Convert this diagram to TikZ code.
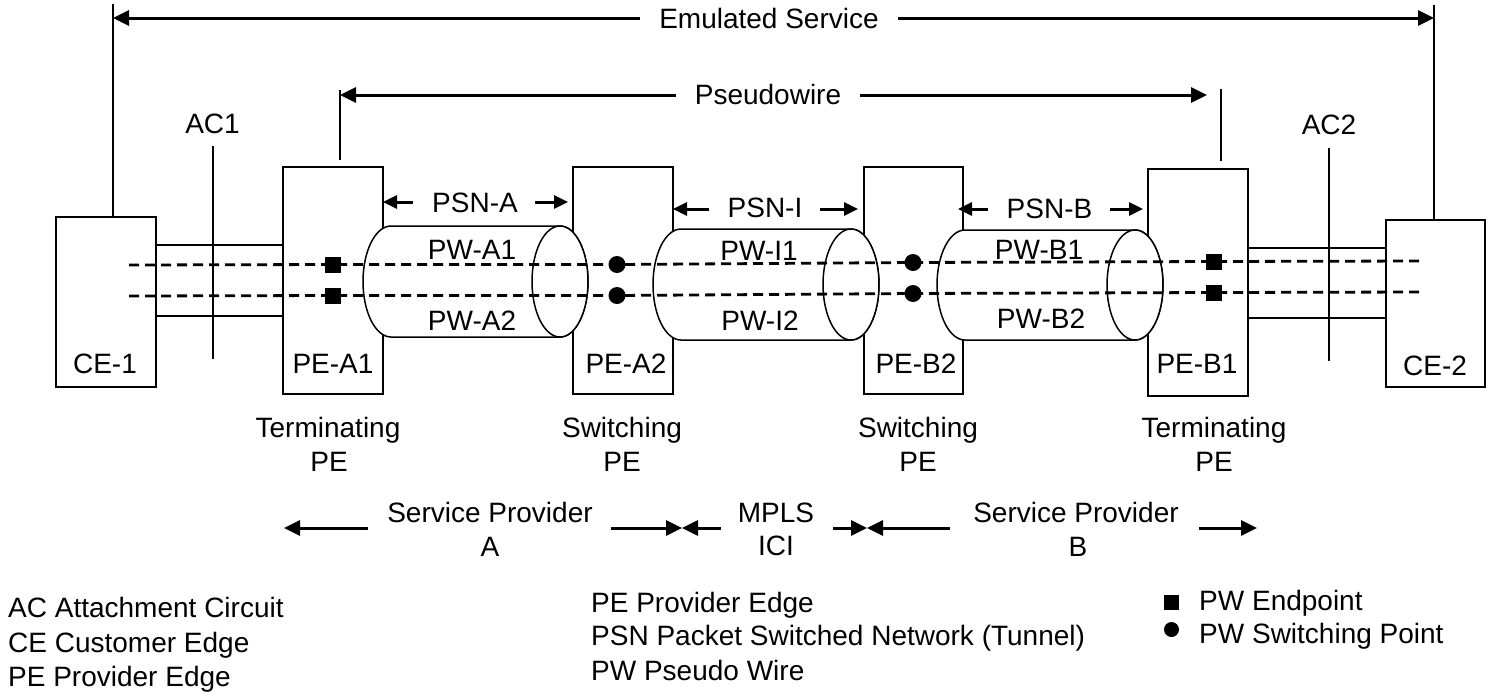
\documentclass[tikz,border=0pt]{standalone}
\usepackage{fontspec}
\setmainfont{Liberation Sans}
\usetikzlibrary{arrows.meta}
\newcommand{\pwcyl}[5]{%
  \draw[cylline] (#1,#3-#5) -- (#2,#3-#5)
    arc[start angle=-90,end angle=90,x radius=#4,y radius=#5]
    -- (#1,#3+#5)
    arc[start angle=90,end angle=270,x radius=#4,y radius=#5] -- cycle;
  \draw[cylline] (#2,#3) ellipse[x radius=#4,y radius=#5];
}
\begin{document}
\begin{tikzpicture}[x=1pt,y=-1pt,
  box/.style={draw,line width=1.5pt,minimum width=100pt,minimum height=227pt,inner sep=0pt},
  lbl/.style={anchor=base,inner sep=0pt,font=\fontsize{28}{34}\selectfont},
  lleft/.style={anchor=base west,inner sep=0pt,font=\fontsize{28}{34}\selectfont},
  thinline/.style={line width=1.5pt},
  bigarrow/.style={line width=3pt,-{Triangle[length=16pt,width=15pt]}},
  smallarrow/.style={line width=3pt,-{Triangle[length=14pt,width=13pt]}},
  wire/.style={line width=2.8pt,dash pattern=on 10pt off 6pt},
  cylline/.style={line width=1.5pt,fill=white},
  endpt/.style={fill=black,minimum size=16pt,inner sep=0pt},
  swpt/.style={circle,fill=black,minimum size=17pt,inner sep=0pt}]
\useasboundingbox (0,0) rectangle (1497,694);

% boxes
\node[box,minimum height=170pt] (CE1) at (106,302) {};
\node[box] (PEA1) at (333,280.5) {};
\node[box] (PEA2) at (623,280.5) {};
\node[box,minimum width=99pt] (PEB2) at (913.5,280.5) {};
\node[box] (PEB1) at (1198,282.5) {};
\node[box,minimum width=99pt,minimum height=167pt] (CE2) at (1435.5,303.5) {};

% cylinders (tunnels)
\pwcyl{391}{560}{281.5}{28}{55.5}
\pwcyl{681}{851}{284.5}{28}{55.5}
\pwcyl{965}{1135}{285}{28}{55}

% box labels
\node[lbl] (tCE1) at (105,373) {CE-1};
\node[lbl] (tPEA1) at (333,373) {PE-A1};
\node[lbl] (tPEA2) at (626,373) {PE-A2};
\node[lbl] (tPEB2) at (916,373) {PE-B2};
\node[lbl] (tPEB1) at (1197,373) {PE-B1};
\node[lbl] (tCE2) at (1435,375) {CE-2};

% attachment circuits
\coordinate (y245) at (0,245);
\coordinate (y316) at (0,316);
\coordinate (y248) at (0,248);
\coordinate (y318) at (0,318);
\draw[thinline] (CE1.east |- y245) -- (PEA1.west |- y245);
\draw[thinline] (CE1.east |- y316) -- (PEA1.west |- y316);
\draw[thinline] (PEB1.east |- y248) -- (CE2.west |- y248);
\draw[thinline] (PEB1.east |- y318) -- (CE2.west |- y318);
\coordinate (ac1t) at (213,146);
\coordinate (ac1b) at (213,359);
\coordinate (ac2t) at (1329,148);
\coordinate (ac2b) at (1329,361);
\draw[thinline] (ac1t) -- (ac1b);
\draw[thinline] (ac2t) -- (ac2b);
\node[lbl] (AC1) at (212.5,133) {AC1};
\node[lbl] (AC2) at (1329,134) {AC2};

% emulated service
\node[lbl,inner xsep=19pt] (ES) at (769,28) {Emulated Service};
\coordinate (esL) at (113,18);
\coordinate (esR) at (1434,18);
\coordinate (esLtop) at (113,4);
\coordinate (esRtop) at (1434,5);
\draw[bigarrow] (ES.west |- esL) -- (esL);
\draw[bigarrow] (ES.east |- esR) -- (esR);
\draw[thinline] (esLtop) -- (esLtop |- CE1.north);
\draw[thinline] (esRtop) -- (esRtop |- CE2.north);

% pseudowire
\node[lbl,inner xsep=19pt] (PWL) at (768,104) {Pseudowire};
\coordinate (pwL) at (340,95);
\coordinate (pwR) at (1207,95);
\draw[bigarrow] (PWL.west |- pwL) -- (pwL);
\draw[bigarrow] (PWL.east |- pwR) -- (pwR);
\coordinate (pwLt) at (340,90);
\coordinate (pwLb) at (340,160);
\coordinate (pwRt) at (1221,89);
\coordinate (pwRb) at (1221,161);
\draw[thinline] (pwLt) -- (pwLb);
\draw[thinline] (pwRt) -- (pwRb);

% PSN labels
\node[lbl] (PSNA) at (475,212) {PSN-A};
\node[lbl] (PSNI) at (765,217) {PSN-I};
\node[lbl] (PSNB) at (1049.5,218) {PSN-B};
\coordinate (pa1) at (413,202); \coordinate (pa2) at (383,202);
\coordinate (pa3) at (535,202); \coordinate (pa4) at (568,202);
\coordinate (pi1) at (709,209); \coordinate (pi2) at (673,209);
\coordinate (pi3) at (820,209); \coordinate (pi4) at (858,209);
\coordinate (pb1) at (988,209); \coordinate (pb2) at (958,209);
\coordinate (pb3) at (1110,209); \coordinate (pb4) at (1143,209);
\draw[smallarrow] (pa1) -- (pa2);
\draw[smallarrow] (pa3) -- (pa4);
\draw[smallarrow] (pi1) -- (pi2);
\draw[smallarrow] (pi3) -- (pi4);
\draw[smallarrow] (pb1) -- (pb2);
\draw[smallarrow] (pb3) -- (pb4);

% PW labels
\node[lbl] (PWA1) at (472,259) {PW-A1};
\node[lbl] (PWA2) at (472,330) {PW-A2};
\node[lbl] (PWI1) at (759,260) {PW-I1};
\node[lbl] (PWI2) at (760,330) {PW-I2};
\node[lbl] (PWB1) at (1039,259) {PW-B1};
\node[lbl] (PWB2) at (1041,328) {PW-B2};

% markers
\node[endpt] (sA1t) at (333,264.5) {};
\node[endpt] (sA1b) at (333,295.5) {};
\node[swpt] (cA2t) at (617,264.5) {};
\node[swpt] (cA2b) at (617,295.5) {};
\node[swpt] (cB2t) at (913,262.5) {};
\node[swpt] (cB2b) at (913,293.5) {};
\node[endpt] (sB1t) at (1214,261.5) {};
\node[endpt] (sB1b) at (1214,292.5) {};
\coordinate (w1L) at (129,265);
\coordinate (w1R) at (1422,261);
\coordinate (w2L) at (129,296);
\coordinate (w2R) at (1422,292);
\draw[wire] (w1L) -- (sA1t.center) -- (cA2t.center) -- (cB2t.center) -- (sB1t.center) -- (w1R);
\draw[wire] (w2L) -- (sA1b.center) -- (cA2b.center) -- (cB2b.center) -- (sB1b.center) -- (w2R);

% PE role labels
\node[lbl] (term1) at (328,437) {Terminating};
\node[lbl] (term1b) at (329,471) {PE};
\node[lbl] (sw1) at (622,437) {Switching};
\node[lbl] (sw1b) at (622,471) {PE};
\node[lbl] (sw2) at (918,437) {Switching};
\node[lbl] (sw2b) at (918,471) {PE};
\node[lbl] (term2) at (1214,437) {Terminating};
\node[lbl] (term2b) at (1214,471) {PE};

% domains
\node[lbl] (SPA) at (490,522) {Service Provider};
\node[lbl] (SPAb) at (490,556) {A};
\node[lbl] (MP) at (776,522) {MPLS};
\node[lbl] (MPb) at (776,555) {ICI};
\node[lbl] (SPB) at (1076,522) {Service Provider};
\node[lbl] (SPBb) at (1078,556) {B};
\coordinate (d1) at (368,528); \coordinate (d2) at (284,528);
\coordinate (d3) at (611,528); \coordinate (d4) at (682,528);
\coordinate (d5) at (721,528);
\coordinate (d6) at (833,528); \coordinate (d7) at (867,528);
\coordinate (d8) at (950,528);
\coordinate (d9) at (1199,528); \coordinate (d10) at (1257,528);
\draw[bigarrow] (d1) -- (d2);
\draw[bigarrow] (d3) -- (d4);
\draw[bigarrow] (d5) -- (d4);
\draw[bigarrow] (d6) -- (d7);
\draw[bigarrow] (d8) -- (d7);
\draw[bigarrow] (d9) -- (d10);

% legend
\node[lleft] (lg1) at (8,617) {AC Attachment Circuit};
\node[lleft] (lg2) at (8,652) {CE Customer Edge};
\node[lleft] (lg3) at (8,686) {PE Provider Edge};
\node[lleft] (lg4) at (591,612) {PE Provider Edge};
\node[lleft] (lg5) at (591,645) {PSN Packet Switched Network (Tunnel)};
\node[lleft] (lg6) at (591,680) {PW Pseudo Wire};
\node[endpt,minimum size=15pt] (lgsq) at (1171.5,602) {};
\node[swpt,minimum size=15pt] (lgci) at (1171.5,629.5) {};
\node[lleft] (lg7) at (1199,610) {PW Endpoint};
\node[lleft] (lg8) at (1199,643) {PW Switching Point};
\end{tikzpicture}
\end{document}
